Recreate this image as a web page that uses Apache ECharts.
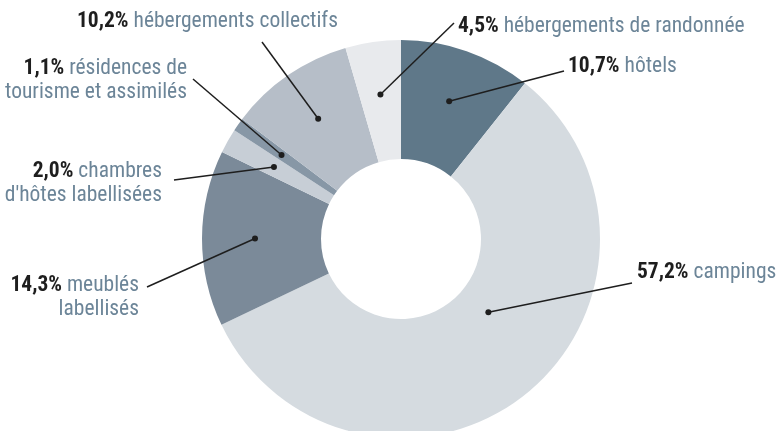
<!DOCTYPE html>
<html><head><meta charset="utf-8">
<script src="https://cdn.jsdelivr.net/npm/echarts@6/dist/echarts.min.js"></script>
<style>html,body{margin:0;padding:0;background:#fff}#c{width:781px;height:431px}</style>
</head><body><div id="c"></div>
<script>
// ---- data ----
const categories = ['hôtels', 'campings', 'meublés labellisés', "chambres d'hôtes labellisées", 'résidences de tourisme et assimilés', 'hébergements collectifs', 'hébergements de randonnée'];
const labelLines = [['hôtels'], ['campings'], ['meublés', 'labellisés'], ['chambres', "d'hôtes labellisées"], ['résidences de', 'tourisme et assimilés'], ['hébergements collectifs'], ['hébergements de randonnée']];
const shares = [10.7, 57.2, 14.3, 2.0, 1.1, 10.2, 4.5];

// ---- style / layout ----
const colors = ['#5f7889', '#d5dbe0', '#7b8a99', '#c7ced6', '#8797a6', '#b6bec8', '#e8eaed'];
const FONT = "'Roboto Condensed', 'Liberation Sans Narrow', Roboto, sans-serif";
const FS = 21.5, LH = 24;
const CX = 401, CY = 239, R0 = 80, R1 = 199;
const DOT_R = 146;
// label anchor (x, top y, align) and leader-line end point
const labelCfg = [
  {x: 568, y: 55, align: 'left', lx: 564, ly: 71},
  {x: 637, y: 261, align: 'left', lx: 632, ly: 283},
  {x: 139, y: 274, align: 'right', lx: 147, ly: 287},
  {x: 162, y: 160, align: 'right', lx: 174, ly: 180},
  {x: 187, y: 57, align: 'right', lx: 193, ly: 79},
  {x: 77, y: 10, align: 'left', lx: 262, ly: 42},
  {x: 458, y: 15, align: 'left', lx: 454, ly: 23}
];
// campings dot is placed off its mid-angle in the reference
const dotAdjust = {1: {dAngle: -11.5, r: 114}};

const fmtPct = v => v.toFixed(1).replace('.', ',') + '%';
const total = shares.reduce((a, b) => a + b, 0);
function dotPos(i) {
  let cum = 0;
  for (let k = 0; k < i; k++) cum += shares[k];
  let ang = (cum + shares[i] / 2) / total * 360;
  let r = DOT_R;
  if (dotAdjust[i]) { ang += dotAdjust[i].dAngle; r = dotAdjust[i].r; }
  const a = ang * Math.PI / 180;
  return [CX + r * Math.sin(a), CY - r * Math.cos(a)];
}

const data = categories.map((c, i) => ({
  name: c, value: shares[i],
  itemStyle: {color: colors[i]},
  label: {
    formatter: '{b|' + fmtPct(shares[i]) + '} ' + labelLines[i].map(t => '{n|' + t + '}').join('\n')
  }
}));

const graphics = [];
shares.forEach((s, i) => {
  const d = dotPos(i), c = labelCfg[i];
  graphics.push({type: 'polyline', shape: {points: [d, [c.lx, c.ly]]}, style: {stroke: '#1e1e1e', lineWidth: 1.5, fill: null}, z: 99, silent: true});
  graphics.push({type: 'circle', shape: {cx: d[0], cy: d[1], r: 3}, style: {fill: '#1e1e1e'}, z: 100, silent: true});
});

const chart = echarts.init(document.getElementById('c'), null, {renderer: 'canvas'});
chart.setOption({
  backgroundColor: '#ffffff',
  animation: false,
  series: [{
    type: 'pie',
    center: [CX, CY],
    radius: [R0, R1],
    startAngle: 90,
    clockwise: true,
    silent: true,
    avoidLabelOverlap: false,
    data: data,
    label: {
      show: true,
      position: 'outside',
      fontFamily: FONT,
      fontSize: FS,
      lineHeight: LH,
      color: '#6c8598',
      rich: {
        b: {fontFamily: FONT, fontSize: FS, lineHeight: LH, fontWeight: 'bold', color: '#1e1e1e'},
        n: {fontFamily: FONT, fontSize: FS, lineHeight: LH, color: '#6c8598'}
      }
    },
    labelLine: {show: false},
    labelLayout: function (p) {
      const c = labelCfg[p.dataIndex];
      return {x: c.x, y: c.y, align: c.align, verticalAlign: 'top'};
    }
  }],
  graphic: graphics
});
</script></body></html>
